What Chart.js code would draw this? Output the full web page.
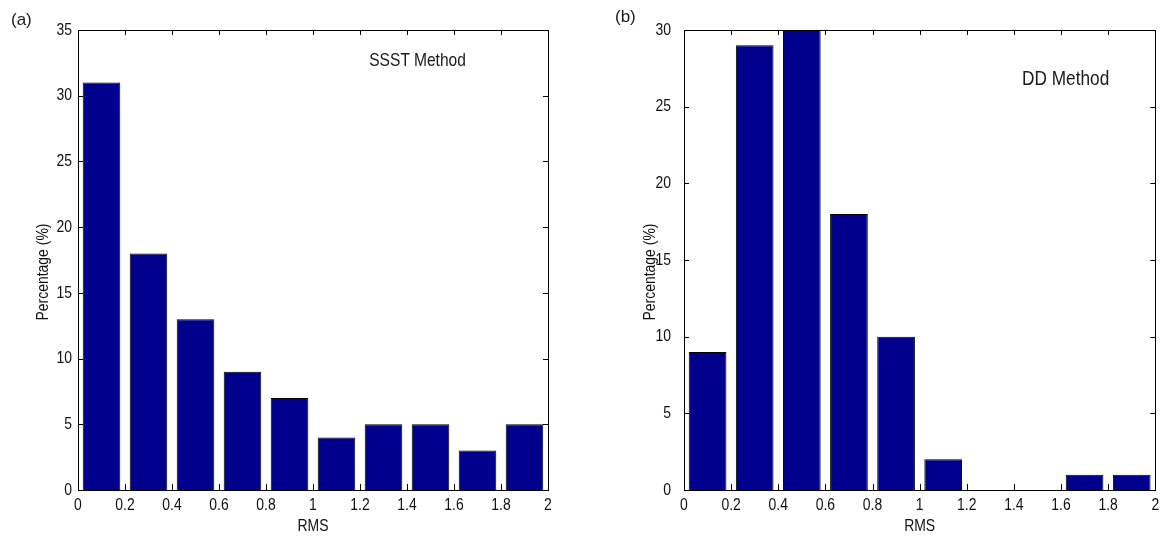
<!DOCTYPE html>
<html><head><meta charset="utf-8">
<script src="https://cdn.jsdelivr.net/npm/chart.js@4"></script>
<style>
html,body{margin:0;padding:0;background:#fff;}
#wrap{position:relative;width:1165px;height:542px;overflow:hidden;background:#fff;}
.cv{position:absolute;top:0;}
.lbl{position:absolute;font-family:"Liberation Sans",Arial,sans-serif;color:#1a1a1a;white-space:nowrap;line-height:22px;transform:scaleX(0.82);transform-origin:right center;}
.pl{position:absolute;font-family:"Liberation Sans",Arial,sans-serif;color:#1a1a1a;white-space:nowrap;line-height:20px;font-size:17px;}
</style></head>
<body><div id="wrap">
<canvas id="chartA" class="cv" width="580" height="542" style="left:0px;width:580px;height:542px"></canvas>
<canvas id="chartB" class="cv" width="582" height="542" style="left:583px;width:582px;height:542px"></canvas>
<div class="pl" style="left:11px;top:10px">(a)</div>
<div class="pl" style="left:615px;top:7px">(b)</div>
<div class="lbl" style="right:699px;top:49px;font-size:19px">SSST Method</div>
<div class="lbl" style="right:56px;top:67px;font-size:21px">DD Method</div>
</div>
<script>
// ---- data ----
const binCenters = [0.1, 0.3, 0.5, 0.7, 0.9, 1.1, 1.3, 1.5, 1.7, 1.9];
const ssstPercent = [31, 18, 13, 9, 7, 4, 5, 5, 3, 5];
const ddPercent = [9, 29, 30, 18, 10, 2, 0, 0, 1, 1];
const xTickLabels = ['0', '0.2', '0.4', '0.6', '0.8', '1', '1.2', '1.4', '1.6', '1.8', '2'];
const ssstYTickLabels = ['0', '5', '10', '15', '20', '25', '30', '35'];
const ddYTickLabels = ['0', '5', '10', '15', '20', '25', '30'];
const xTitle = 'RMS';
const yTitle = 'Percentage (%)';

const FONT = '"Liberation Sans",Arial,sans-serif';
const TXT = '#111';
const NARROW = 0.82;

// condensed text rendering (narrow Helvetica look of the original)
function condense(canvas) {
  const ctx = canvas.getContext('2d');
  const orig = ctx.fillText.bind(ctx);
  ctx.fillText = function (text, x, y, maxWidth) {
    this.save();
    this.translate(x, y);
    this.scale(NARROW, 1);
    if (maxWidth === undefined || maxWidth === null) orig(text, 0, 0);
    else orig(text, 0, 0, maxWidth / NARROW);
    this.restore();
  };
}

const boxTicks = {
  id: 'boxTicks',
  afterDatasetsDraw(chart, args, opts) {
    const {ctx, chartArea: a, scales: {x, y}} = chart;
    ctx.save();
    ctx.strokeStyle = '#000';
    ctx.lineWidth = 1;
    ctx.beginPath();
    x.ticks.forEach(t => {
      const px = Math.round(x.getPixelForValue(t.value)) + 0.5;
      ctx.moveTo(px, a.bottom); ctx.lineTo(px, a.bottom - 6);
      ctx.moveTo(px, a.top); ctx.lineTo(px, a.top + 5);
    });
    y.ticks.forEach(t => {
      const py = Math.round(y.getPixelForValue(t.value)) + 0.5;
      ctx.moveTo(a.left, py); ctx.lineTo(a.left + 5, py);
      ctx.moveTo(a.right, py); ctx.lineTo(a.right - 5, py);
    });
    ctx.stroke();
    ctx.strokeRect(Math.round(a.left) + 0.5, Math.round(a.top) + 0.5,
                   Math.round(a.right - a.left), Math.round(a.bottom - a.top));
    // y-axis title
    ctx.fillStyle = TXT;
    ctx.font = '17px ' + FONT;
    ctx.textAlign = 'center';
    ctx.textBaseline = 'middle';
    ctx.translate(opts.titleX, (a.top + a.bottom) / 2 + opts.titleShift);
    ctx.rotate(-Math.PI / 2);
    ctx.fillText(yTitle, 0, 0);
    ctx.restore();
  }
};

function makeChart(id, values, yMax, yLabels, o) {
  const canvas = document.getElementById(id);
  condense(canvas);
  return new Chart(canvas, {
    type: 'bar',
    data: {
      datasets: [{
        data: binCenters.map((c, i) => ({x: c, y: values[i]})),
        backgroundColor: '#00008C',
        borderColor: '#000000',
        borderWidth: 1,
        barPercentage: 0.8,
        categoryPercentage: 1.0,
        borderSkipped: 'start'
      }]
    },
    options: {
      responsive: false,
      animation: false,
      devicePixelRatio: 1,
      layout: {padding: {left: 0, right: o.padRight, top: 30, bottom: 0}},
      plugins: {
        legend: {display: false}, tooltip: {enabled: false}, title: {display: false},
        boxTicks: {titleX: o.titleX, titleShift: 12}
      },
      scales: {
        x: {
          type: 'linear', min: 0, max: 2, offset: false,
          grid: {display: false, drawTicks: false},
          border: {display: false},
          ticks: {stepSize: 0.2, autoSkip: false, maxRotation: 0, minRotation: 0, padding: 5, color: TXT,
                  font: {family: FONT, size: 17}, callback: (v, i) => xTickLabels[i]},
          title: {display: true, text: xTitle, color: TXT, font: {family: FONT, size: 17}, padding: {top: 0, bottom: 5}},
          afterFit: s => { s.height = 52; }
        },
        y: {
          type: 'linear', min: 0, max: yMax,
          grid: {display: false, drawTicks: false},
          border: {display: false},
          ticks: {stepSize: 5, autoSkip: false, padding: o.yTickPad, color: TXT,
                  font: {family: FONT, size: 17}, callback: (v, i) => yLabels[i]},
          title: {display: false},
          afterFit: s => { s.width = o.yWidth; }
        }
      }
    },
    plugins: [boxTicks]
  });
}

makeChart('chartA', ssstPercent, 35, ssstYTickLabels, {padRight: 32, yWidth: 78, yTickPad: 6, titleX: 43});
makeChart('chartB', ddPercent, 30, ddYTickLabels, {padRight: 8, yWidth: 101, yTickPad: 13, titleX: 67});
</script>
</body></html>
